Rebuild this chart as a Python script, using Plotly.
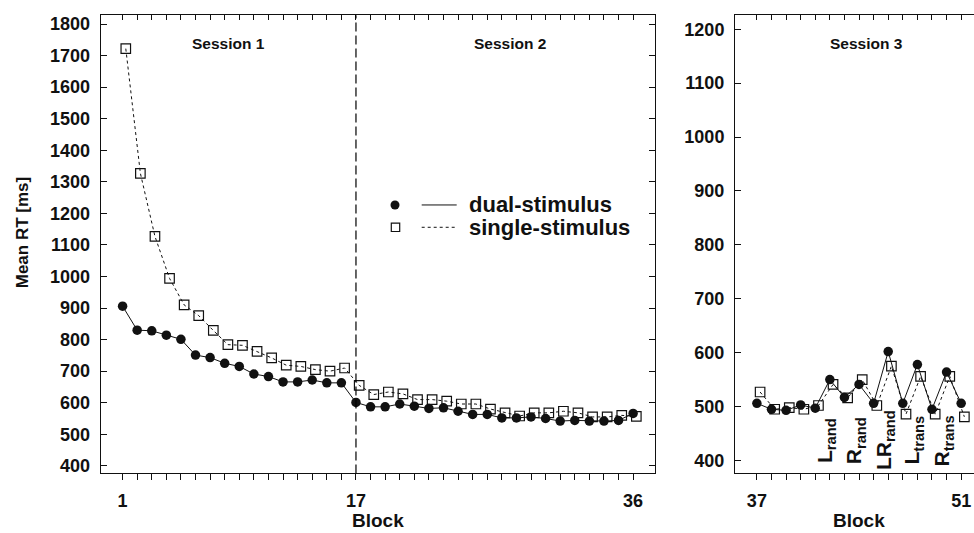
import plotly.graph_objects as go

# ---------------- data ----------------
blocks_s12 = list(range(1, 37))
dual_s12 = [906, 830, 828, 814, 801, 751, 743, 725, 715, 691, 683, 666, 666, 672, 663, 663,
            601, 587, 587, 596, 589, 582, 584, 573, 563, 563, 552, 552, 555, 550, 542, 544,
            542, 542, 544, 566]
single_s12 = [1722, 1327, 1127, 994, 910, 876, 829, 784, 782, 763, 742, 719, 715, 705, 700, 710,
              655, 626, 634, 628, 610, 610, 605, 596, 596, 580, 568, 558, 568, 568, 573, 568,
              555, 555, 560, 557]

blocks_s3 = list(range(37, 52))
dual_s3 = [506, 495, 493, 503, 497, 550, 517, 541, 506, 602, 506, 578, 495, 564, 506]
single_s3 = [527, 495, 498, 495, 502, 541, 516, 550, 502, 575, 486, 556, 486, 556, 481]

xtick_labels_s12 = {1: "1", 17: "17", 36: "36"}
xtick_labels_s3 = {37: "37", 51: "51"}
yticks_s12 = list(range(400, 1900, 100))
yticks_s3 = list(range(400, 1300, 100))

session_labels = ["Session 1", "Session 2", "Session 3"]
condition_labels = ["L<sub>rand</sub>", "R<sub>rand</sub>", "LR<sub>rand</sub>",
                    "L<sub>trans</sub>", "R<sub>trans</sub>"]
series_names = ["dual-stimulus", "single-stimulus"]

# ---------------- layout helpers ----------------
W, H = 974, 533
FONT = "Liberation Sans, Arial, Helvetica, sans-serif"
BLACK = "#111111"


def px(x):
    return x / W


def py(y):
    return 1 - y / H


sq_shift = 0.22  # squares drawn slightly to the right of the circles
ydom = [py(476), py(14.3)]
xdom1 = [px(100.7), px(655)]
xdom2 = [px(735), 1.0]
xr1 = [-0.5, 37.5]
xr2 = [35.5, 51.88]
yr1 = [376, 1828]
yr2 = [376, 1226]

fig = go.Figure()

# session 1+2 panel
fig.add_trace(go.Scatter(
    x=[b + sq_shift for b in blocks_s12], y=single_s12, mode="lines+markers",
    line=dict(color=BLACK, width=1, dash="dot"),
    marker=dict(symbol="square-open", size=9.5, color=BLACK, line=dict(width=1.2)),
    xaxis="x", yaxis="y", showlegend=False, hoverinfo="skip"))
fig.add_trace(go.Scatter(
    x=blocks_s12, y=dual_s12, mode="lines+markers",
    line=dict(color=BLACK, width=1),
    marker=dict(symbol="circle", size=9.5, color=BLACK),
    xaxis="x", yaxis="y", showlegend=False, hoverinfo="skip"))

# session 3 panel
fig.add_trace(go.Scatter(
    x=[b + sq_shift for b in blocks_s3], y=single_s3, mode="lines+markers",
    line=dict(color=BLACK, width=1, dash="dot"),
    marker=dict(symbol="square-open", size=9.5, color=BLACK, line=dict(width=1.2)),
    xaxis="x2", yaxis="y2", showlegend=False, hoverinfo="skip"))
fig.add_trace(go.Scatter(
    x=blocks_s3, y=dual_s3, mode="lines+markers",
    line=dict(color=BLACK, width=1),
    marker=dict(symbol="circle", size=9.5, color=BLACK),
    xaxis="x2", yaxis="y2", showlegend=False, hoverinfo="skip"))

# empty traces so the mirrored (top / right) axes get drawn
fig.add_trace(go.Scatter(x=[], y=[], xaxis="x3", yaxis="y3", showlegend=False, hoverinfo="skip"))
fig.add_trace(go.Scatter(x=[], y=[], xaxis="x4", yaxis="y2", showlegend=False, hoverinfo="skip"))

tickfont = dict(family=FONT, size=18, color=BLACK, weight="bold")
common_axis = dict(showgrid=False, zeroline=False, showline=True, linecolor=BLACK,
                   linewidth=1, tickcolor=BLACK, tickwidth=1, tickfont=tickfont)

fig.update_layout(
    width=W, height=H, autosize=False,
    margin=dict(l=0, r=0, t=0, b=0),
    paper_bgcolor="white", plot_bgcolor="white",
    font=dict(family=FONT, color=BLACK),
    xaxis=dict(domain=xdom1, range=xr1, anchor="y", ticks="outside", ticklen=6,
               tickvals=blocks_s12,
               ticktext=[xtick_labels_s12.get(b, "") for b in blocks_s12],
               ticklabelstandoff=5, **common_axis),
    xaxis3=dict(overlaying="x", side="top", anchor="y", range=xr1, ticks="inside", ticklen=5,
                tickvals=blocks_s12, showticklabels=False, **common_axis),
    yaxis=dict(domain=ydom, range=yr1, anchor="x", ticks="inside", ticklen=6,
               tickvals=yticks_s12, ticklabelstandoff=6, **common_axis),
    yaxis3=dict(overlaying="y", side="right", anchor="x", range=yr1, ticks="inside",
                ticklen=6, tickvals=yticks_s12, showticklabels=False, **common_axis),
    xaxis2=dict(domain=xdom2, range=xr2, anchor="y2", ticks="outside", ticklen=6,
                tickvals=blocks_s3,
                ticktext=[xtick_labels_s3.get(b, "") for b in blocks_s3],
                ticklabelstandoff=5, **common_axis),
    xaxis4=dict(overlaying="x2", side="top", anchor="y2", range=xr2, ticks="inside",
                ticklen=5, tickvals=blocks_s3, showticklabels=False, **common_axis),
    yaxis2=dict(domain=ydom, range=yr2, anchor="x2", ticks="inside", ticklen=6,
                tickvals=yticks_s3, ticklabelstandoff=6, **common_axis),
)

# session boundary
fig.add_shape(type="line", xref="x", yref="y domain", x0=17, x1=17, y0=0, y1=1,
              line=dict(color="#000000", width=1.2, dash="9px,4px"))

ann = []
# axis titles
ann.append(dict(text="Mean RT [ms]", x=px(22), y=py(234), xref="paper", yref="paper",
                textangle=-90, showarrow=False,
                font=dict(family=FONT, size=17, color=BLACK, weight="bold"),
                xanchor="center", yanchor="middle"))
block_font = dict(family=FONT, size=19, color=BLACK, weight="bold")
ann.append(dict(text="Block", x=px(378), y=py(523), xref="paper", yref="paper",
                showarrow=False, font=block_font, xanchor="center", yanchor="middle"))
ann.append(dict(text="Block", x=px(859), y=py(523), xref="paper", yref="paper",
                showarrow=False, font=block_font, xanchor="center", yanchor="middle"))
# session titles
for lab, xp in zip(session_labels, [228.7, 510, 866]):
    ann.append(dict(text=lab, x=px(xp), y=py(42.5), xref="paper", yref="paper",
                    showarrow=False, font=dict(family=FONT, size=15.5, color=BLACK, weight="bold"),
                    xanchor="center", yanchor="middle"))
# condition labels in session 3
for lab, xb in zip(condition_labels, [41.7, 43.7, 45.75, 47.7, 49.75]):
    ann.append(dict(text=lab, x=xb, y=437, xref="x2", yref="y2", textangle=-90,
                    showarrow=False, font=dict(family=FONT, size=21, color=BLACK, weight="bold"),
                    xanchor="center", yanchor="middle"))

# legend (drawn manually: marker, line sample, label)
leg_rows = [205.5, 228]
for i, (name, yy) in enumerate(zip(series_names, leg_rows)):
    if i == 0:
        fig.add_shape(type="circle", xref="paper", yref="paper", xsizemode="pixel",
                      ysizemode="pixel", xanchor=px(395), yanchor=py(yy),
                      x0=-4.5, x1=4.5, y0=-4.5, y1=4.5,
                      fillcolor=BLACK, line=dict(color=BLACK, width=0))
        dash = "solid"
    else:
        fig.add_shape(type="rect", xref="paper", yref="paper", xsizemode="pixel",
                      ysizemode="pixel", xanchor=px(395.5), yanchor=py(yy),
                      x0=-4.2, x1=4.2, y0=-4.2, y1=4.2,
                      fillcolor="rgba(0,0,0,0)", line=dict(color=BLACK, width=1.2))
        dash = "dot"
    fig.add_shape(type="line", xref="paper", yref="paper", x0=px(421.7), x1=px(456.7),
                  y0=py(yy), y1=py(yy), line=dict(color=BLACK, width=1, dash=dash))
    ann.append(dict(text=name, x=px(467), y=py(yy), xref="paper", yref="paper",
                    showarrow=False, font=dict(family=FONT, size=22, color=BLACK, weight="bold"),
                    xanchor="left", yanchor="middle"))

fig.update_layout(annotations=ann)
fig.write_html("out.html")
